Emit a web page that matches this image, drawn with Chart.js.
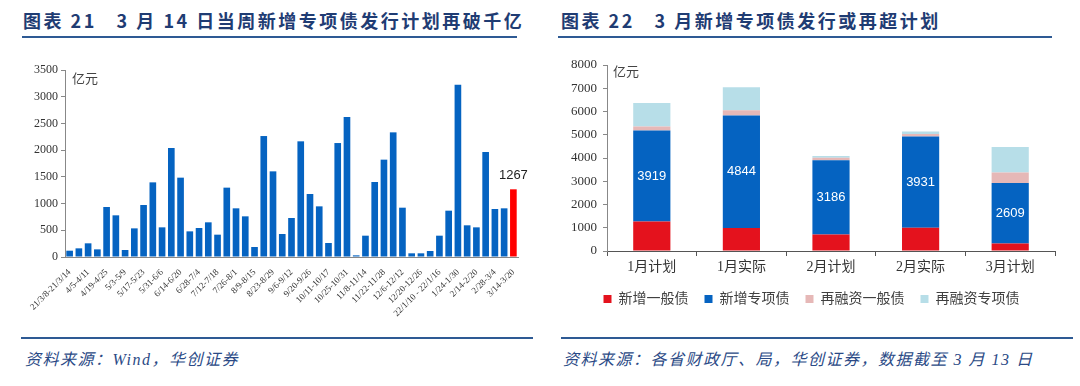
<!DOCTYPE html>
<html>
<head>
<meta charset="utf-8">
<script src="https://cdn.jsdelivr.net/npm/chart.js@4"></script>
<style>
  body { margin: 0; background: #fff; width: 1080px; height: 386px; position: relative; overflow: hidden; font-family: 'Noto Sans CJK SC', sans-serif; }
  .title { position: absolute; top: 7px; font-size: 18px; font-weight: bold; color: #1f3c73; letter-spacing: 2.5px; white-space: pre; }
  .rule { position: absolute; height: 2px; background: #2e5a94; }
  .source { position: absolute; top: 346px; font-size: 16px; font-style: italic; color: #2b4a86; letter-spacing: 1.5px; white-space: pre; font-family: 'Liberation Serif', 'Noto Sans CJK SC', serif; }
  .unit { position: absolute; font-size: 13px; color: #444; }
  .box { position: absolute; }
</style>
</head>
<body>
<div class="title" style="left:23px">图表 21   3 月 14 日当周新增专项债发行计划再破千亿</div>
<div class="rule" style="left:22px; top:36px; width:495px"></div>
<div class="title" style="left:561px">图表 22   3 月新增专项债发行或再超计划</div>
<div class="rule" style="left:558px; top:36px; width:494px"></div>

<div class="box" style="left:0; top:40px; width:540px; height:300px"><canvas id="weekly"></canvas></div>
<div class="box" style="left:540px; top:40px; width:540px; height:300px"><canvas id="monthly"></canvas></div>
<div class="unit" style="left:72px; top:68px">亿元</div>
<div class="unit" style="left:613px; top:61px">亿元</div>

<div class="rule" style="left:21px; top:337px; width:512px"></div>
<div class="rule" style="left:561px; top:337px; width:512px"></div>
<div class="source" style="left:25px">资料来源：Wind，华创证券</div>
<div class="source" style="left:563px">资料来源：各省财政厅、局，华创证券，数据截至 3 月 13 日</div>

<script>
// 左图：每周新增专项债发行（亿元）
const weekTickLabels = ['21/3/8-21/3/14', '4/5-4/11', '4/19-4/25', '5/3-5/9', '5/17-5/23', '5/31-6/6',
  '6/14-6/20', '6/28-7/4', '7/12-7/18', '7/26-8/1', '8/9-8/15', '8/23-8/29', '9/6-9/12', '9/20-9/26',
  '10/11-10/17', '10/25-10/31', '11/8-11/14', '11/22-11/28', '12/6-12/12', '12/20-12/26',
  '22/1/10 - 22/1/16', '1/24-1/30', '2/14-2/20', '2/28-3/4', '3/14-3/20'];
const weekValues = [118, 162, 256, 143, 936, 780, 131, 536, 973, 1397,
  555, 2040, 1485, 480, 543, 649, 418, 1298, 911, 761,
  187, 2264, 1603, 430, 730, 2165, 1179, 948, 262, 2133,
  2620, 31, 399, 1404, 1822, 2333, 923, 69, 69, 112,
  399, 867, 3225, 593, 555, 1965, 898, 911, 1267];
const weekYTicks = [0, 500, 1000, 1500, 2000, 2500, 3000, 3500];

// 右图：地方债发行（亿元）
const monthCats = ['1月计划', '1月实际', '2月计划', '2月实际', '3月计划'];
const newGeneral = [1267, 985, 714, 998, 320];
const newSpecial = [3919, 4844, 3186, 3931, 2609];
const refiGeneral = [170, 230, 110, 100, 442];
const refiSpecial = [1014, 985, 75, 115, 1100];
const monthYTicks = [0, 1000, 2000, 3000, 4000, 5000, 6000, 7000, 8000];

// 只每隔一周显示标签
const weekCats = weekValues.map((v, i) => i % 2 === 0 ? weekTickLabels[i / 2] : '');
const lastIdx = weekValues.length - 1;

const serif = "'Liberation Serif', 'Noto Sans CJK SC', serif";
const plain = v => String(v);

new Chart(document.getElementById('weekly'), {
  type: 'bar',
  data: {
    labels: weekCats,
    datasets: [{
      data: weekValues,
      backgroundColor: weekValues.map((v, i) => i === lastIdx ? '#ff0000' : '#0563c1'),
      barPercentage: 0.72,
      categoryPercentage: 1
    }]
  },
  options: {
    responsive: true,
    maintainAspectRatio: false,
    animation: false,
    layout: { padding: { top: 30, right: 22, bottom: 0, left: 0 } },
    plugins: { legend: { display: false }, tooltip: { enabled: false } },
    scales: {
      x: {
        grid: { display: false },
        border: { color: '#888' },
        ticks: {
          autoSkip: false, maxRotation: 45, minRotation: 45, padding: 2,
          font: { family: serif, size: 9 }, color: '#333'
        },
        afterFit: s => { s.height = 83; }
      },
      y: {
        min: 0, max: 3500,
        afterBuildTicks: s => { s.ticks = weekYTicks.map(v => ({ value: v })); },
        grid: { drawOnChartArea: false, tickLength: 4, color: '#888' },
        border: { color: '#888' },
        ticks: { font: { family: serif, size: 12 }, color: '#333', padding: 3, callback: plain },
        afterFit: s => { s.width = 65; }
      }
    }
  },
  plugins: [{
    id: 'lastLabel',
    afterDatasetsDraw(chart) {
      const bar = chart.getDatasetMeta(0).data[lastIdx];
      const ctx = chart.ctx;
      ctx.save();
      ctx.font = "13px 'Liberation Sans', sans-serif";
      ctx.fillStyle = '#222';
      ctx.textAlign = 'center';
      ctx.textBaseline = 'bottom';
      ctx.fillText(String(weekValues[lastIdx]), bar.x, bar.y - 7);
      ctx.restore();
    }
  }]
});

new Chart(document.getElementById('monthly'), {
  type: 'bar',
  data: {
    labels: monthCats,
    datasets: [
      { label: '新增一般债', data: newGeneral, backgroundColor: '#e4121d' },
      { label: '新增专项债', data: newSpecial, backgroundColor: '#0563c1' },
      { label: '再融资一般债', data: refiGeneral, backgroundColor: '#e6b8b7' },
      { label: '再融资专项债', data: refiSpecial, backgroundColor: '#b7dee8' }
    ]
  },
  options: {
    responsive: true,
    maintainAspectRatio: false,
    animation: false,
    datasets: { bar: { barPercentage: 0.415, categoryPercentage: 1 } },
    layout: { padding: { top: 25, right: 25, bottom: 24, left: 28 } },
    plugins: {
      tooltip: { enabled: false },
      legend: {
        position: 'bottom',
        labels: {
          boxWidth: 8, boxHeight: 8, padding: 16,
          font: { family: serif, size: 14 }, color: '#404040'
        }
      }
    },
    scales: {
      x: {
        stacked: true,
        grid: { offset: true, drawOnChartArea: false, tickLength: 5, color: '#555' },
        border: { color: '#555' },
        ticks: { font: { family: serif, size: 14 }, color: '#333', padding: 3 },
        afterFit: s => { s.height = 25; }
      },
      y: {
        stacked: true,
        min: 0, max: 8000,
        afterBuildTicks: s => { s.ticks = monthYTicks.map(v => ({ value: v })); },
        grid: { drawOnChartArea: false, tickLength: 4, color: '#888' },
        border: { color: '#888' },
        ticks: { font: { family: serif, size: 13 }, color: '#333', padding: 6, callback: plain },
        afterFit: s => { s.width = 39; }
      }
    }
  },
  plugins: [{
    id: 'specialLabels',
    afterDatasetsDraw(chart) {
      const ctx = chart.ctx;
      ctx.save();
      ctx.font = "13px 'Liberation Sans', sans-serif";
      ctx.fillStyle = '#fff';
      ctx.textAlign = 'center';
      ctx.textBaseline = 'middle';
      chart.getDatasetMeta(1).data.forEach((bar, i) => {
        ctx.fillText(String(newSpecial[i]), bar.x, (bar.y + bar.base) / 2);
      });
      ctx.restore();
    }
  }]
});
</script>
</body>
</html>
